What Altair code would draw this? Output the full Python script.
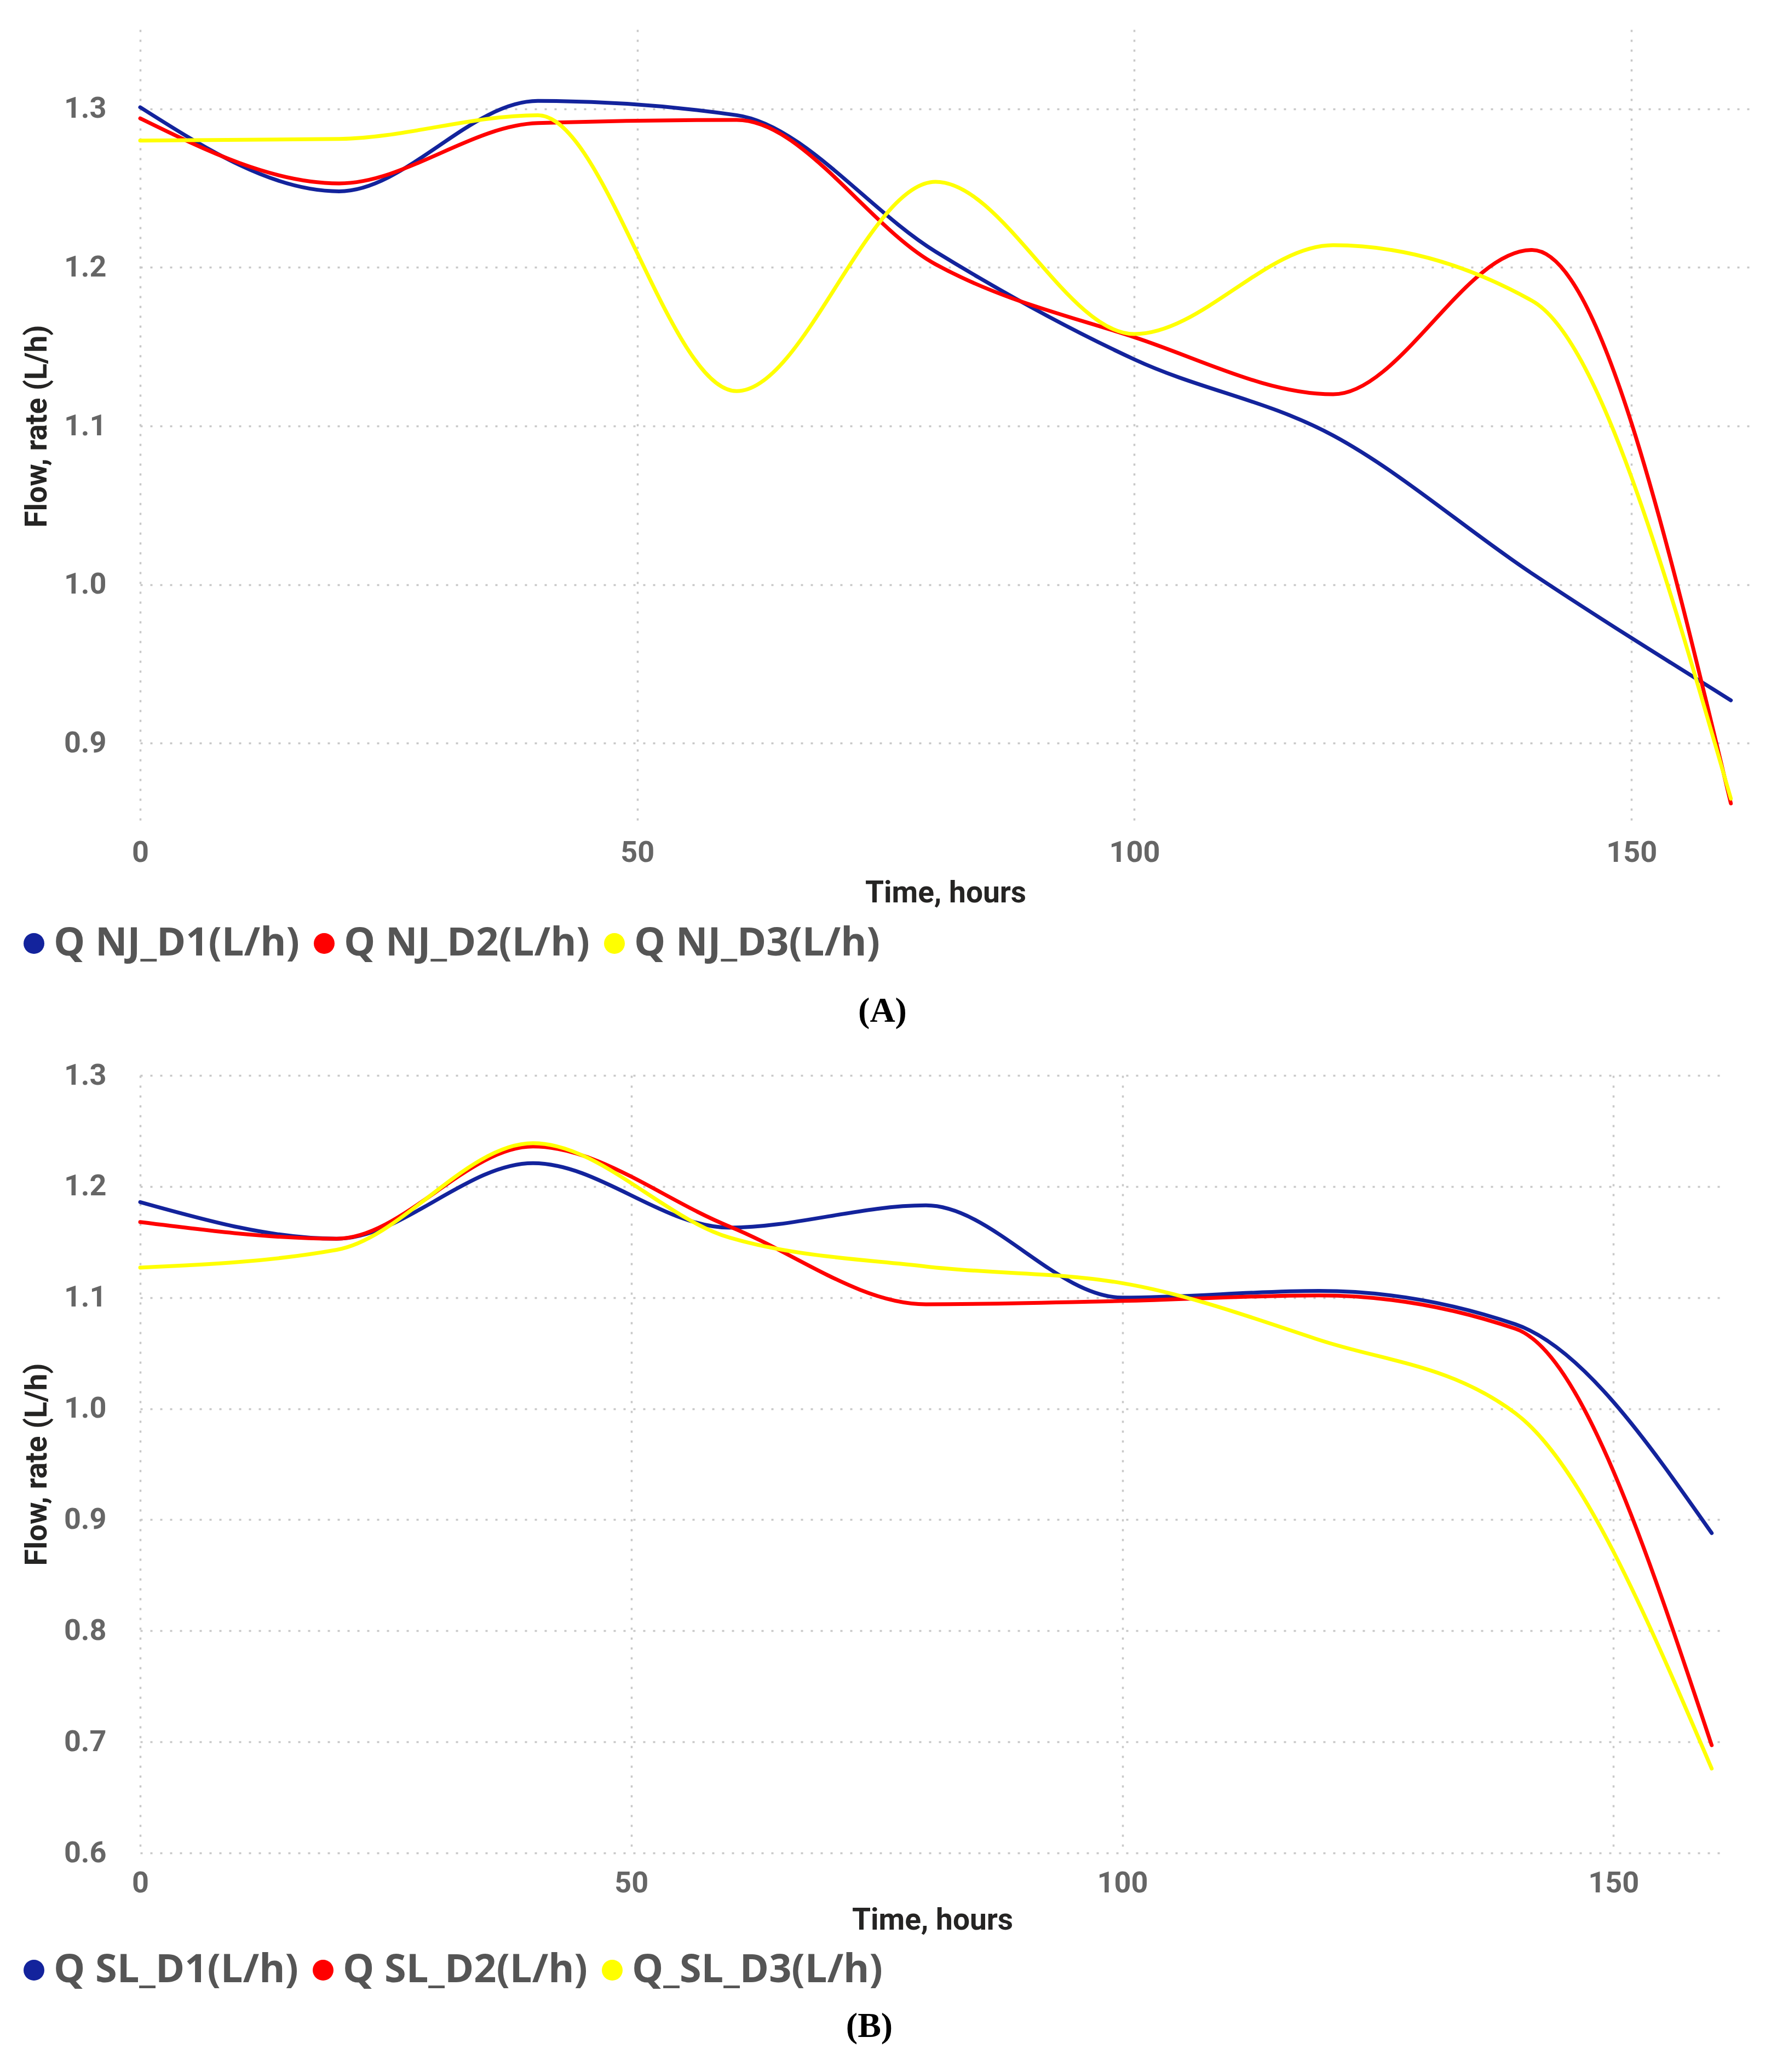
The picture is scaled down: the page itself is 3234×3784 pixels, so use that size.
import altair as alt
import pandas as pd

hours = [0, 20, 40, 60, 80, 100, 120, 140, 160]

nj_names = ["Q NJ_D1(L/h)", "Q NJ_D2(L/h)", "Q NJ_D3(L/h)"]
nj_d1 = [1.301, 1.248, 1.305, 1.296, 1.210, 1.142, 1.094, 1.007, 0.927]
nj_d2 = [1.294, 1.253, 1.291, 1.293, 1.202, 1.156, 1.120, 1.211, 0.862]
nj_d3 = [1.280, 1.281, 1.296, 1.122, 1.254, 1.158, 1.214, 1.179, 0.865]

sl_names = ["Q SL_D1(L/h)", "Q SL_D2(L/h)", "Q_SL_D3(L/h)"]
sl_d1 = [1.186, 1.153, 1.221, 1.163, 1.183, 1.100, 1.106, 1.076, 0.888]
sl_d2 = [1.168, 1.153, 1.236, 1.164, 1.094, 1.097, 1.102, 1.072, 0.697]
sl_d3 = [1.127, 1.143, 1.239, 1.154, 1.128, 1.113, 1.062, 0.996, 0.676]

colors = ["#13239c", "#ff0000", "#ffff00"]

nj_ticks = [0.9, 1.0, 1.1, 1.2, 1.3]
sl_ticks = [0.6, 0.7, 0.8, 0.9, 1.0, 1.1, 1.2, 1.3]
x_ticks = [0, 50, 100, 150]


def make_df(names, series):
    rows = []
    for name, vals in zip(names, series):
        for h, v in zip(hours, vals):
            rows.append({"hours": h, "flow": v, "series": name})
    return pd.DataFrame(rows)


def panel(df, names, ydomain, yticks, xmax, w, h, caption, legend_y, title_pad, cap_off):
    x = alt.X(
        "hours:Q",
        scale=alt.Scale(domain=[0, xmax], nice=False, zero=False),
        axis=alt.Axis(values=x_ticks, title="Time, hours", labelPadding=28,
                      titlePadding=title_pad, format="d", labelFlush=False),
    )
    y = alt.Y(
        "flow:Q",
        scale=alt.Scale(domain=ydomain, nice=False, zero=False),
        axis=alt.Axis(values=yticks, title="Flow, rate (L/h)", format=".1f",
                      labelPadding=62, titlePadding=20),
    )
    cscale = alt.Scale(domain=names, range=colors)
    base = alt.Chart(df)
    lines = base.mark_line(interpolate="monotone", strokeWidth=7, strokeCap="round").encode(
        x=x, y=y, color=alt.Color("series:N", scale=cscale, sort=names, legend=None),
    )
    keys = base.mark_circle(size=1444, opacity=0).encode(
        x=x, y=y,
        color=alt.Color(
            "series:N", scale=cscale, sort=names,
            legend=alt.Legend(
                orient="none", legendX=-230, legendY=legend_y, direction="horizontal",
                title=None, symbolType="circle", symbolSize=1444, symbolStrokeWidth=0,
                symbolOpacity=1,
                labelFont="Open Sans", labelFontSize=72, labelFontWeight="bold",
                labelColor="#555555", labelOffset=0, columnPadding=9, padding=0,
                labelLimit=0,
            ),
        ),
    )
    return alt.layer(keys, lines).properties(
        width=w, height=h,
        title=alt.TitleParams(caption, orient="bottom", anchor="middle", frame="bounds",
                              font="Liberation Serif", fontSize=64, fontWeight="bold",
                              color="#000000", offset=cap_off),
    )


chart_a = panel(make_df(nj_names, [nj_d1, nj_d2, nj_d3]), nj_names, [0.85, 1.35],
                nj_ticks, 162, 2941, 1448, "(A)", 1633, 20, 56)
chart_b = panel(make_df(sl_names, [sl_d1, sl_d2, sl_d3]), sl_names, [0.6, 1.3],
                sl_ticks, 161.3, 2893, 1420, "(B)", 1598, 14, 35)

chart = alt.vconcat(chart_a, chart_b, spacing=58).resolve_scale(
    color="independent"
).resolve_legend(color="independent").configure(
    padding={"left": 18, "top": 46, "right": 20, "bottom": 20},
    background="white",
).configure_view(stroke=None).configure_axis(
    grid=True, gridColor="#c8c8c8", gridDash=[4, 14], gridWidth=3.5,
    domain=False, ticks=False,
    labelFont="Roboto", labelFontSize=54, labelFontWeight="bold", labelColor="#666666",
    titleFont="Roboto", titleFontSize=55, titleFontWeight="bold", titleColor="#252423",
)

chart.save("out.html", embed_options={"renderer": "svg", "actions": False})
